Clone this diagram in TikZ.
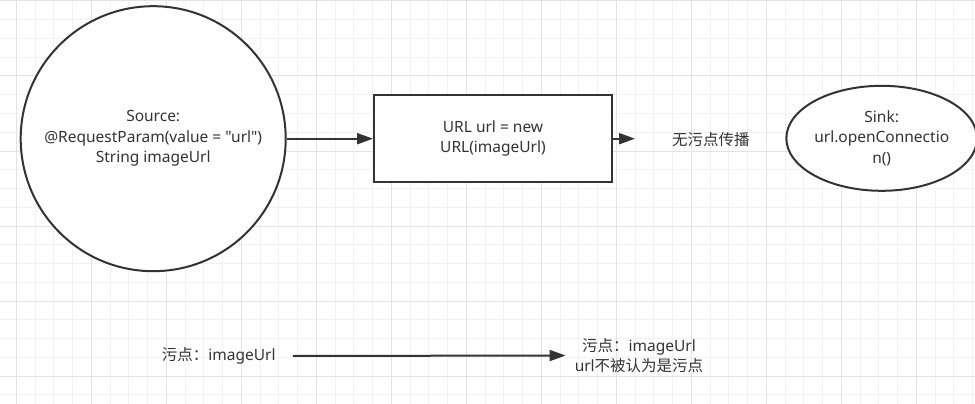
\documentclass[tikz,border=0pt]{standalone}
\usepackage{fontspec}
\setmainfont{Noto Sans}[Ligatures=TeXOff]
\newfontfamily\cjk{Noto Sans CJK SC}
\usetikzlibrary{shapes.geometric,arrows.meta}
\definecolor{ink}{HTML}{333333}
\definecolor{gridminor}{HTML}{F2F2F2}
\definecolor{gridmajor}{HTML}{E3E3E3}
\tikzset{
  lbl/.style={text=ink,font=\fontsize{15.5}{20.5}\selectfont,align=center,inner sep=0pt},
  shp/.style={draw=ink,line width=2pt,fill=white,text=ink,font=\fontsize{15.5}{20.5}\selectfont,align=center},
  arr/.style={draw=ink,line width=2pt,-{Triangle[length=16pt,width=11pt]}},
}
\begin{document}
\begin{tikzpicture}[x=1pt,y=-1pt]
\fill[white] (0,0) rectangle (975,404);
\useasboundingbox (0,0) rectangle (975,404);
% minor grid
\foreach \k in {-1,...,51} {
  \draw[gridminor,line width=1pt] ({16.3+18.75*\k},0) -- ({16.3+18.75*\k},404);
}
\foreach \k in {0,...,21} {
  \draw[gridminor,line width=1pt] (0,{1+18.75*\k}) -- (975,{1+18.75*\k});
}
% major grid
\foreach \k in {0,...,12} {
  \draw[gridmajor,line width=1pt] ({16.3+75*\k},0) -- ({16.3+75*\k},404);
}
\foreach \k in {0,...,5} {
  \draw[gridmajor,line width=1pt] (0,{1+75*\k}) -- (975,{1+75*\k});
}
% shapes
\node[shp,circle,minimum size=265pt,inner sep=0pt] (src) at (153.2,138.7)
  {Source:\\@RequestParam(value = "url")\\String imageUrl};
\node[shp,rectangle,minimum width=238pt,minimum height=87pt,inner sep=0pt] (url) at (493,138.7)
  {URL url = new\\URL(imageUrl)};
\node[shp,ellipse,minimum width=183pt,minimum height=105pt,inner sep=0pt] (sink) at (881.7,138.3)
  {Sink:\\url.openConnectio\\n()};
\coordinate (tip) at (635,138.7);
\node[lbl] (noprop) at (710.8,140) {\cjk 无污点传播};
% connectors
\draw[arr] (src.east) -- (url.west);
\draw[arr] (url.east) -- (tip);
% bottom
\node[lbl] (t1) at (218.8,356) {{\cjk 污点：}imageUrl};
\node[lbl] (t2) at (639,355.5) {{\cjk 污点：}imageUrl\\url{\cjk 不被认为是污点}};
\draw[arr] ([xshift=17pt]t1.east) -- ([xshift=-9pt]t2.west);
\end{tikzpicture}
\end{document}
